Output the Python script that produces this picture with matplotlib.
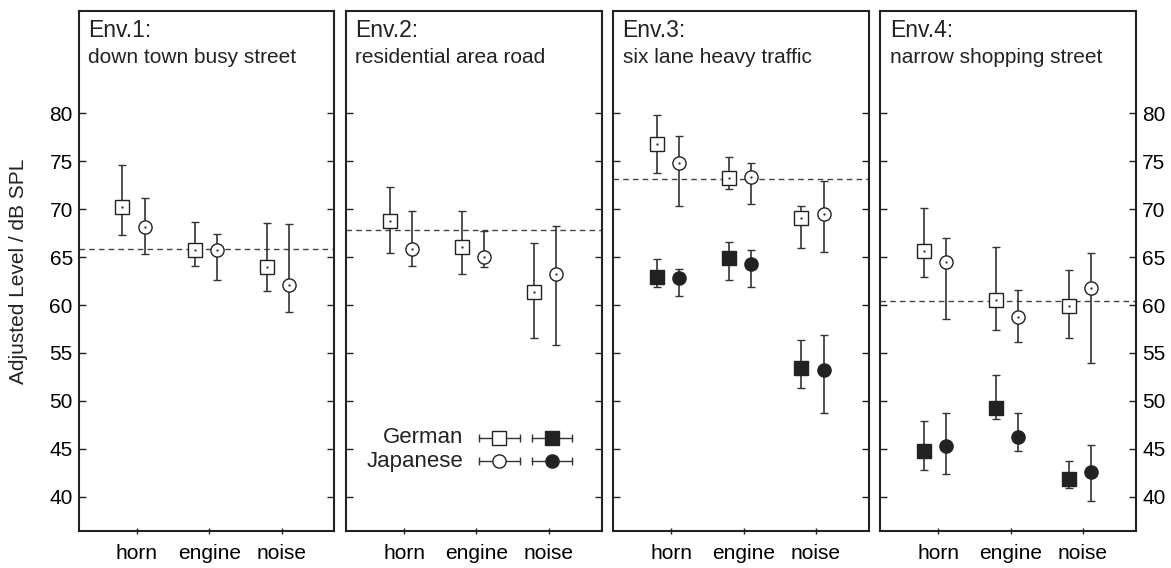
import numpy as np
import matplotlib.pyplot as plt

plt.rcParams['font.family'] = ['Liberation Sans', 'DejaVu Sans']

# categories and panel titles
categories = ['horn', 'engine', 'noise']
env_titles = ['Env.1:', 'Env.2:', 'Env.3:', 'Env.4:']
env_subtitles = ['down town busy street', 'residential area road',
                 'six lane heavy traffic', 'narrow shopping street']

# dashed reference level per environment
ref_level = [65.9, 67.8, 73.2, 60.4]

# German, open squares (mean, lower, upper)
german_open_mean = [[70.2, 65.7, 64.0], [68.8, 66.1, 61.4], [76.8, 73.3, 69.1], [65.6, 60.5, 59.9]]
german_open_lo = [[67.3, 64.1, 61.5], [65.4, 63.2, 56.6], [73.8, 72.1, 66.0], [62.9, 57.4, 56.6]]
german_open_hi = [[74.6, 68.7, 68.6], [72.3, 69.8, 66.5], [79.8, 75.5, 70.3], [70.1, 66.1, 63.7]]

# Japanese, open circles
japanese_open_mean = [[68.1, 65.8, 62.1], [65.9, 65.0, 63.2], [74.8, 73.4, 69.5], [64.5, 58.8, 61.8]]
japanese_open_lo = [[65.3, 62.6, 59.3], [64.1, 64.0, 55.8], [70.3, 70.5, 65.5], [58.5, 56.1, 53.9]]
japanese_open_hi = [[71.2, 67.4, 68.5], [69.8, 67.7, 68.3], [77.6, 74.8, 73.0], [67.0, 61.6, 65.4]]

# German, filled squares (only Env.3 and Env.4)
german_fill_mean = [None, None, [62.9, 64.9, 53.4], [44.8, 49.3, 41.8]]
german_fill_lo = [None, None, [61.9, 62.6, 51.3], [42.8, 48.1, 40.9]]
german_fill_hi = [None, None, [64.8, 66.6, 56.4], [47.9, 52.7, 43.7]]

# Japanese, filled circles
japanese_fill_mean = [None, None, [62.8, 64.3, 53.2], [45.3, 46.2, 42.6]]
japanese_fill_lo = [None, None, [60.9, 61.9, 48.7], [42.4, 44.8, 39.5]]
japanese_fill_hi = [None, None, [63.8, 65.8, 56.9], [48.7, 48.7, 45.4]]

yticks = [40, 45, 50, 55, 60, 65, 70, 75, 80]

ink = '#222222'
bar_col = '#333333'

fig, axes = plt.subplots(1, 4, figsize=(11.71, 5.68), dpi=100, sharey=True)
fig.subplots_adjust(left=0.0675, right=0.970, bottom=0.065, top=0.9806, wspace=0.046)

xpos = np.arange(1, len(categories) + 1)
series = [
    (german_open_mean, german_open_lo, german_open_hi, 's', 'white', -0.2, 10),
    (japanese_open_mean, japanese_open_lo, japanese_open_hi, 'o', 'white', 0.105, 9.5),
    (german_fill_mean, german_fill_lo, german_fill_hi, 's', ink, -0.2, 10),
    (japanese_fill_mean, japanese_fill_lo, japanese_fill_hi, 'o', ink, 0.105, 9.5),
]

for i, ax in enumerate(axes):
    ax.axhline(ref_level[i], color='#444444', lw=1, ls=(0, (4, 3)), zorder=1)
    for mean, lo, hi, mk, face, dx, ms in series:
        if mean[i] is None:
            continue
        m = np.array(mean[i])
        err = [m - np.array(lo[i]), np.array(hi[i]) - m]
        ax.errorbar(xpos + dx, m, yerr=err, fmt=mk, ms=ms, mfc=face, mec=ink, mew=1,
                    ecolor=bar_col, elinewidth=1.2, capsize=3, capthick=1, zorder=3)
        ax.plot(xpos + dx, m, '.', ms=1.2, color=ink, zorder=4)

    ax.set_xlim(0.2, 3.73)
    ax.set_ylim(36.4, 90.7)
    ax.set_xticks(xpos)
    ax.set_xticklabels(categories, fontsize=15)
    ax.set_yticks(yticks)
    ax.tick_params(axis='x', direction='inout', length=5, width=1, color=ink, pad=7)
    ax.tick_params(axis='y', direction='in', length=5, width=1, color=ink,
                   left=True, right=True, labelleft=(i == 0), labelright=(i == 3),
                   labelsize=15, pad=4.5)
    for s in ax.spines.values():
        s.set_linewidth(1.5)
        s.set_color(ink)

    ax.text(0.036, 0.951, env_titles[i], transform=ax.transAxes, fontsize=16.5,
            ha='left', va='baseline', color=ink)
    ax.text(0.036, 0.901, env_subtitles[i], transform=ax.transAxes, fontsize=15,
            ha='left', va='baseline', color=ink)

# hand-drawn legend inside Env.2
lax = axes[1]
legend_rows = [('German', 0.179, 's'), ('Japanese', 0.134, 'o')]
for label, yy, mk in legend_rows:
    lax.text(0.46, yy, label, transform=lax.transAxes, ha='right', va='center',
             fontsize=16, color=ink)
    for x0, x1, xc, face in [(0.52, 0.68, 0.598, 'white'), (0.727, 0.886, 0.807, ink)]:
        lax.plot([x0, x1], [yy, yy], color=bar_col, lw=1, transform=lax.transAxes, zorder=3)
        lax.plot([x0, x1], [yy, yy], ls='none', marker='|', ms=6, mew=1, color=bar_col,
                 transform=lax.transAxes, zorder=3)
        lax.plot([xc], [yy], marker=mk, ms=10 if mk == 's' else 9.5, mfc=face, mec=ink,
                 mew=1, transform=lax.transAxes, zorder=4)

fig.text(0.0154, (0.065 + 0.9806) / 2, 'Adjusted Level / dB SPL', rotation=90,
         ha='center', va='center', fontsize=15, color=ink)

fig.savefig('out.png', dpi=100)
